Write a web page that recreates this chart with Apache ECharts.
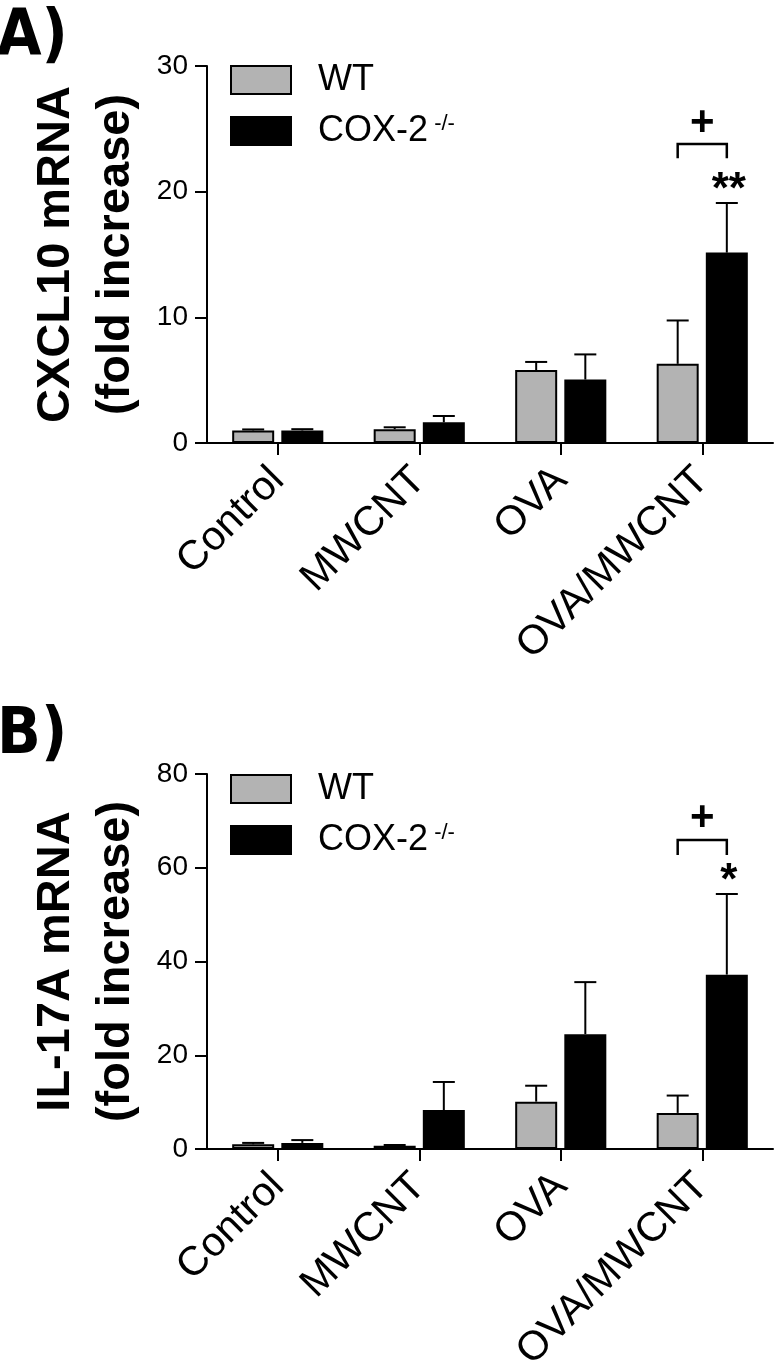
<!DOCTYPE html>
<html>
<head>
<meta charset="utf-8">
<script src="https://cdn.jsdelivr.net/npm/echarts@6/dist/echarts.min.js"></script>
<style>
  html, body { margin: 0; padding: 0; background: #fff; }
  #chart { width: 776px; height: 1368px; }
</style>
</head>
<body>
<div id="chart"></div>
<script>
// ---------------- DATA ----------------
const categories = ['Control', 'MWCNT', 'OVA', 'OVA/MWCNT'];
const seriesNames = ['WT', 'COX-2'];

// Panel A: CXCL10 mRNA (fold increase)
const cxcl10WT = [1.0, 1.1, 5.8, 6.3];
const cxcl10WTErr = [0.08, 0.15, 0.65, 3.45];
const cxcl10COX = [1.0, 1.65, 5.05, 15.15];
const cxcl10COXErr = [0.1, 0.5, 2.0, 3.95];
const cxcl10Ticks = { min: 0, max: 30, interval: 10 };

// Panel B: IL-17A mRNA (fold increase)
const il17aWT = [1.0, 0.7, 10.1, 7.7];
const il17aWTErr = [0.3, 0.15, 3.4, 3.7];
const il17aCOX = [1.3, 8.3, 24.5, 37.2];
const il17aCOXErr = [0.6, 6.0, 11.1, 17.2];
const il17aTicks = { min: 0, max: 80, interval: 20 };

// Significance annotations: [categoryIndex, bracketLegBottom, bracketTop, plusY, starY]
const cxcl10Sig = [3, 22.65, 23.8, 25.4, 20.1];
const cxcl10Stars = '**';
const il17aSig = [3, 62.7, 65.9, 70.5, 57.0];
const il17aStars = '*';

// ---------------- STYLE ----------------
const NARROW = "'Liberation Sans Narrow', 'DejaVu Sans Condensed', sans-serif";
const SANS = "'Liberation Sans', Arial, sans-serif";
const BAR_W = 42;
const BAR_GAP = 0.17;
const OFFSET = BAR_W * (1 + BAR_GAP) / 2;
const CAP_HALF = 11;
const GRAY = '#b3b3b3';

function errData(vals, errs, g) {
  return vals.map((v, i) => [i, g, v, errs[i]]);
}

function errorRender(params, api) {
  const cat = api.value(0), g = api.value(1), v = api.value(2), e = api.value(3);
  const base = api.coord([cat, v]);
  const top = api.coord([cat, v + e]);
  const x = base[0] + (g === 0 ? -OFFSET : OFFSET);
  const ls = { stroke: '#000', lineWidth: 2 };
  return {
    type: 'group',
    children: [
      { type: 'line', shape: { x1: x, y1: base[1], x2: x, y2: top[1] }, style: ls },
      { type: 'line', shape: { x1: x - CAP_HALF, y1: top[1], x2: x + CAP_HALF, y2: top[1] }, style: ls }
    ]
  };
}

function sigRender(stars) {
  return function (params, api) {
    const cat = api.value(0);
    const low = api.coord([cat, api.value(1)]);
    const high = api.coord([cat, api.value(2)]);
    const plus = api.coord([cat, api.value(3)]);
    const star = api.coord([cat, api.value(4)]);
    const xl = low[0] - OFFSET, xr = low[0] + OFFSET;
    return {
      type: 'group',
      children: [
        { type: 'polyline', shape: { points: [[xl, low[1]], [xl, high[1]], [xr, high[1]], [xr, low[1]]] },
          style: { stroke: '#000', lineWidth: 2.5, fill: null } },
        { type: 'text', x: low[0], y: plus[1],
          style: { text: '+', font: 'bold 42px ' + SANS, fill: '#000', align: 'center', verticalAlign: 'middle' } },
        { type: 'text', x: xr + 2, y: star[1],
          style: { text: stars, font: 'bold 44px ' + SANS, fill: '#000', align: 'center', verticalAlign: 'middle' } }
      ]
    };
  };
}

function xAxisCfg(gi) {
  return {
    type: 'category', gridIndex: gi, data: categories,
    axisLine: { show: true, lineStyle: { color: '#000', width: 2 } },
    axisTick: { show: true, alignWithLabel: true, length: 12, lineStyle: { color: '#000', width: 2 } },
    axisLabel: { interval: 0, rotate: 45, margin: 31, color: '#000', fontFamily: SANS, fontSize: 41 },
    splitLine: { show: false }
  };
}

function yAxisCfg(gi, ticks, name) {
  return {
    type: 'value', gridIndex: gi, min: ticks.min, max: ticks.max, interval: ticks.interval,
    name: name, nameLocation: 'middle', nameRotate: 90, nameGap: 52,
    nameTextStyle: { color: '#000', fontFamily: SANS, fontWeight: 'bold', fontSize: 47, lineHeight: 60 },
    axisLine: { show: true, lineStyle: { color: '#000', width: 2 } },
    axisTick: { show: true, length: 12, lineStyle: { color: '#000', width: 2 } },
    axisLabel: { margin: 19, color: '#000', fontFamily: SANS, fontSize: 28 },
    splitLine: { show: false }
  };
}

function barSeries(name, vals, color, axisIdx) {
  return {
    name: name, type: 'bar', xAxisIndex: axisIdx, yAxisIndex: axisIdx,
    data: vals, barWidth: BAR_W, barGap: (BAR_GAP * 100) + '%',
    itemStyle: { color: color, borderColor: '#000', borderWidth: 2 },
    emphasis: { disabled: true }
  };
}

function legendCfg(top) {
  return {
    data: seriesNames, orient: 'vertical', left: 230, top: top, padding: 0,
    itemWidth: 60, itemHeight: 28, itemGap: 15, icon: 'rect',
    formatter: n => n === 'COX-2' ? '{m|COX-2}{s| -/-}' : '{m|WT}',
    textStyle: {
      color: '#000', fontFamily: SANS, fontSize: 36, padding: [0, 0, 0, 22],
      rich: {
        m: { fontFamily: SANS, fontSize: 36, color: '#000' },
        s: { fontFamily: SANS, fontSize: 22, color: '#000', verticalAlign: 'top' }
      }
    }
  };
}

const chart = echarts.init(document.getElementById('chart'), null, { renderer: 'canvas' });
chart.setOption({
  backgroundColor: '#fff',
  animation: false,
  title: [
    { text: 'A)', left: -3, top: 6, padding: 0, textStyle: { fontFamily: NARROW, fontWeight: 'bold', fontSize: 64, color: '#000' } },
    { text: 'B)', left: -3, top: 704, padding: 0, textStyle: { fontFamily: NARROW, fontWeight: 'bold', fontSize: 64, color: '#000' } }
  ],
  legend: [legendCfg(62), legendCfg(771)],
  grid: [
    { left: 207, right: 3, top: 66, height: 377, outerBoundsMode: 'none', containLabel: false },
    { left: 207, right: 3, top: 774, height: 375, outerBoundsMode: 'none', containLabel: false }
  ],
  xAxis: [xAxisCfg(0), xAxisCfg(1)],
  yAxis: [
    yAxisCfg(0, cxcl10Ticks, 'CXCL10 mRNA\n(fold increase)'),
    yAxisCfg(1, il17aTicks, 'IL-17A mRNA\n(fold increase)')
  ],
  series: [
    barSeries('WT', cxcl10WT, GRAY, 0),
    barSeries('COX-2', cxcl10COX, '#000', 0),
    { type: 'custom', xAxisIndex: 0, yAxisIndex: 0, renderItem: errorRender, clip: false, z: 5,
      data: errData(cxcl10WT, cxcl10WTErr, 0).concat(errData(cxcl10COX, cxcl10COXErr, 1)) },
    { type: 'custom', xAxisIndex: 0, yAxisIndex: 0, renderItem: sigRender(cxcl10Stars), clip: false, z: 5,
      data: [cxcl10Sig] },
    barSeries('WT', il17aWT, GRAY, 1),
    barSeries('COX-2', il17aCOX, '#000', 1),
    { type: 'custom', xAxisIndex: 1, yAxisIndex: 1, renderItem: errorRender, clip: false, z: 5,
      data: errData(il17aWT, il17aWTErr, 0).concat(errData(il17aCOX, il17aCOXErr, 1)) },
    { type: 'custom', xAxisIndex: 1, yAxisIndex: 1, renderItem: sigRender(il17aStars), clip: false, z: 5,
      data: [il17aSig] }
  ]
});
</script>
</body>
</html>
